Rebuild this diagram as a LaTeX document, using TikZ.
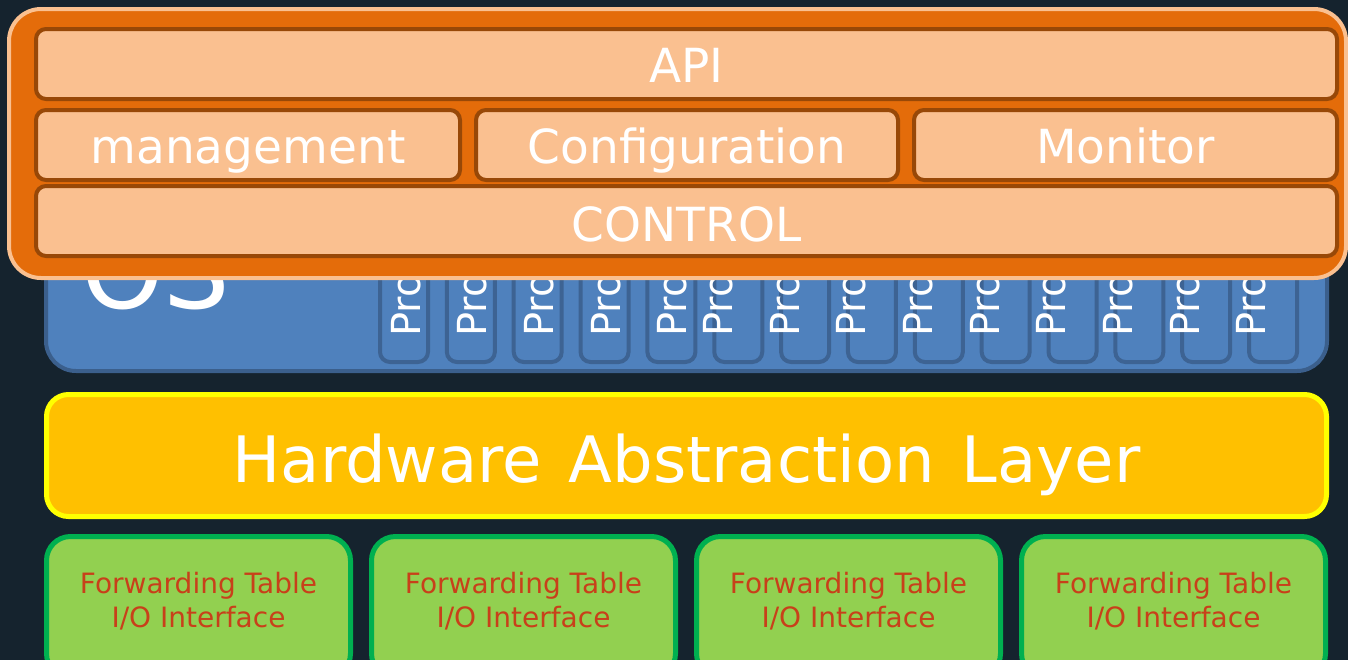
\documentclass[tikz,border=0pt]{standalone}
\usepackage{fontspec}
\setmainfont{DejaVu Sans}
\definecolor{bgc}{HTML}{15232E}
\definecolor{orangefill}{HTML}{E46C0A}
\definecolor{peach}{HTML}{FAC090}
\definecolor{brownedge}{HTML}{984807}
\definecolor{osblue}{HTML}{4F81BD}
\definecolor{osedge}{HTML}{3B5F8C}
\definecolor{proedge}{HTML}{3D6393}
\definecolor{halfill}{HTML}{FFC000}
\definecolor{haledge}{HTML}{FFFF00}
\definecolor{greenfill}{HTML}{92D050}
\definecolor{greenedge}{HTML}{00B050}
\definecolor{fwdtext}{HTML}{C8401A}
\tikzset{
  box/.style={draw, rectangle, inner sep=0pt, outer sep=0pt},
  outerbox/.style={box, fill=orangefill, draw=peach, line width=4pt, rounded corners=32pt},
  innerbox/.style={box, fill=peach, draw=brownedge, line width=4pt, rounded corners=10pt,
    minimum height=70pt, text=white, font=\fontsize{47}{56}\selectfont,
    text height=36pt, text depth=0pt},
  osbox/.style={box, fill=osblue, draw=osedge, line width=4pt, rounded corners=30pt},
  probox/.style={box, fill=osblue, draw=proedge, line width=4pt, rounded corners=10pt,
    minimum width=48pt, minimum height=120pt},
  protext/.style={inner sep=0pt, rotate=90, anchor=west, text=white, font=\fontsize{40}{46}\selectfont},
  halbox/.style={box, fill=halfill, draw=haledge, line width=5pt, rounded corners=22pt},
  fwdbox/.style={box, fill=greenfill, draw=greenedge, line width=5pt, rounded corners=24pt,
    minimum width=304pt, minimum height=141pt},
  fwdtextstyle/.style={inner sep=0pt, align=center, text=fwdtext, font=\fontsize{28}{34.4}\selectfont}
}
\begin{document}
\begin{tikzpicture}[x=1pt,y=-1pt]
\useasboundingbox (0,0) rectangle (1348,659);
\fill[bgc] (-10,-10) rectangle (1358,669);
% OS layer
\node[osbox, minimum width=1281pt, minimum height=229pt] (os) at (686.5,256.5) {};
\node[inner sep=0pt, anchor=base west, text=white, font=\fontsize{105}{120}\selectfont] (ostext) at (81,308) {OS};
% process boxes
\foreach \i in {0,...,13} {
  \node[probox] (pb\i) at ({378+66.85*\i+26},302) {};
}
\foreach \i in {0,...,4} {
  \node[protext] (pt\i) at ({406+66.6*\i},337) {Pro};
}
\foreach \i in {5,...,13} {
  \node[protext] (pt\i) at ({718+66.7*(\i-5)},337) {Pro};
}
% control layer
\node[outerbox, minimum width=1337pt, minimum height=269pt] (ctl) at (677.5,143.5) {};
\node[innerbox, minimum width=1301pt] (api) at (686.5,64) {API};
\node[innerbox, minimum width=424pt] (mgmt) at (248,145) {management};
\node[innerbox, minimum width=422pt] (conf) at (687,145) {Configuration};
\node[innerbox, minimum width=423pt] (mon) at (1125.5,145) {Monitor};
\node[innerbox, minimum width=1301pt, text height=40pt] (control) at (686.5,221) {CONTROL};
% HAL
\node[halbox, minimum width=1280pt, minimum height=122pt] (hal) at (686.5,455.5) {};
\node[inner sep=0pt, anchor=base, text=white, font=\fontsize{64}{76}\selectfont] (haltext) at (686.5,482) {Hardware\hspace{27pt}Abstraction\hspace{27pt}Layer};
% forwarding boxes
\foreach \i/\cx in {1/198.5, 2/523.5, 3/848.5, 4/1173.5} {
  \node[fwdbox] (fwd\i) at (\cx,607) {};
  \node[fwdtextstyle] (fwdt\i) at (\cx,601) {Forwarding Table\\I/O Interface};
}
\end{tikzpicture}
\end{document}
